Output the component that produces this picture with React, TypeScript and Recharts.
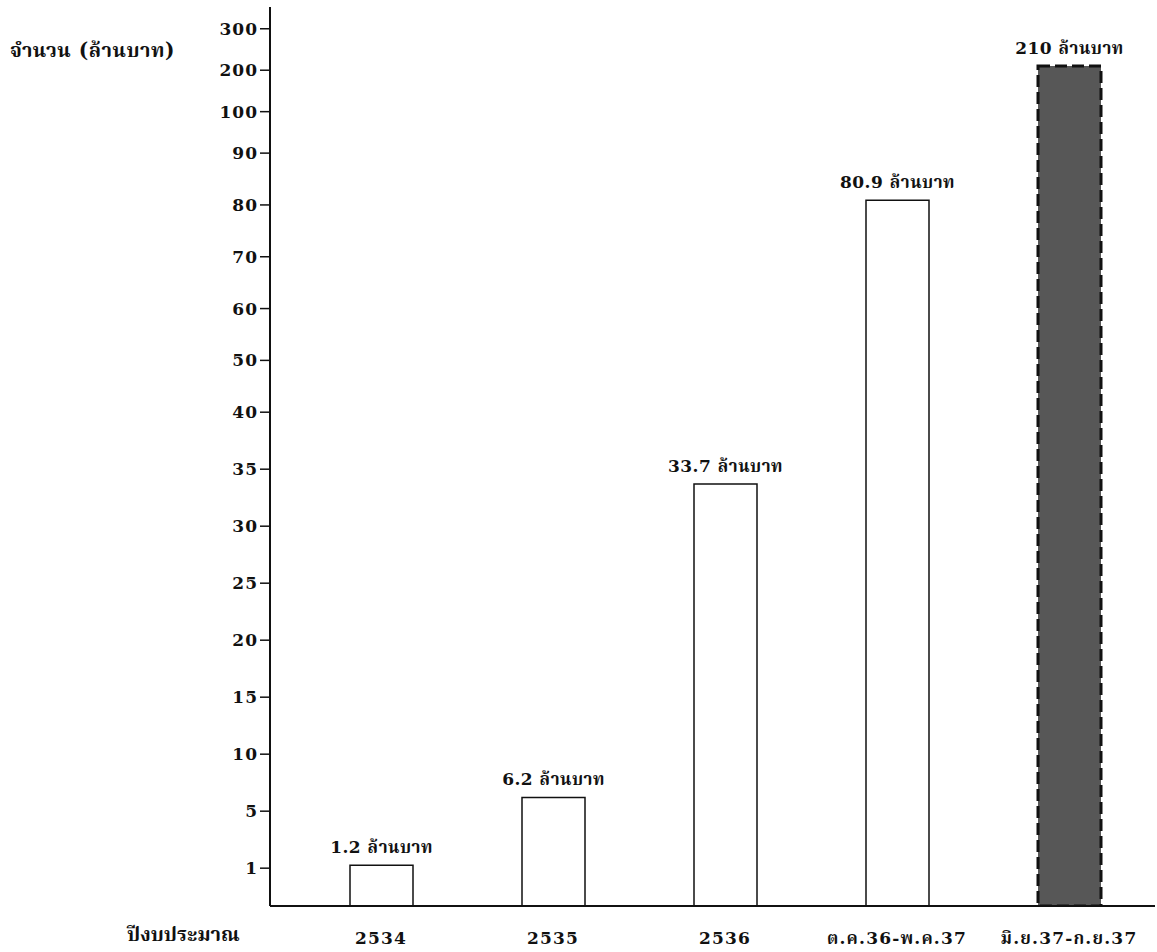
import React from "react";
import { Bar, BarChart, Cell, LabelList, XAxis, YAxis } from "recharts";

// budget per period, million baht
const PERIODS = ["2534", "2535", "2536", "ต.ค.36-พ.ค.37", "มิ.ย.37-ก.ย.37"];
const AMOUNTS = [1.2, 6.2, 33.7, 80.9, 210];

// the printed axis is not linear: each tick gets its own step
const TICK_VALUES = [0, 1, 5, 10, 15, 20, 25, 30, 35, 40, 50, 60, 70, 80, 90, 100, 200, 300];
const TICK_STEPS = [0.73, 1.1, 1.1, 1.1, 1.1, 1.1, 1.1, 1.1, 1.1, 1, 1, 1, 1, 1, 0.8, 0.8, 0.8];

const TICK_POS: number[] = [0];
TICK_STEPS.forEach((s, i) => TICK_POS.push(TICK_POS[i] + s));

function toAxis(v: number) {
  for (let i = 0; i < TICK_VALUES.length - 1; i++) {
    const a = TICK_VALUES[i];
    const b = TICK_VALUES[i + 1];
    if (v <= b) return TICK_POS[i] + ((v - a) / (b - a)) * TICK_STEPS[i];
  }
  return TICK_POS[TICK_POS.length - 1];
}

function tickLabel(p: number) {
  const i = TICK_POS.findIndex((t) => Math.abs(t - p) < 1e-6);
  return i >= 0 ? String(TICK_VALUES[i]) : "";
}

const data = PERIODS.map((period, i) => ({
  period,
  amount: AMOUNTS[i],
  pos: toAxis(AMOUNTS[i]),
}));

const FONT = "'DejaVu Serif', 'Noto Serif Thai', 'Noto Sans Thai', serif";
const TOP = TICK_POS[TICK_POS.length - 1] + 0.42;
const INK = "#111";

const AmountLabel = (props: any) => {
  const { x, y, width, value } = props;
  return (
    <text
      x={x + width / 2}
      y={y - 12}
      textAnchor="middle"
      fill={INK}
      fontSize={17}
      fontWeight={700}
      fontFamily={FONT}
      letterSpacing={0.5}
    >
      {`${value} ล้านบาท`}
    </text>
  );
};

export default function App() {
  return (
    <div style={{ position: "absolute", left: 0, top: 0, width: 1157, height: 952, background: "#fff", fontFamily: FONT }}>
      <div style={{ position: "absolute", left: 10, top: 36, fontSize: 20, fontWeight: 700, color: INK, letterSpacing: 0.5 }}>
        จำนวน (ล้านบาท)
      </div>
      <div style={{ position: "absolute", left: 127, top: 920, fontSize: 20, fontWeight: 700, color: INK }}>
        ปีงบประมาณ
      </div>
      <BarChart
        width={1157}
        height={952}
        data={data}
        margin={{ top: 7, right: 2, bottom: 6, left: 0 }}
        barSize={63}
      >
        <XAxis
          dataKey="period"
          height={40}
          padding={{ left: 25, right: 0 }}
          tickLine={false}
          axisLine={{ stroke: INK, strokeWidth: 2 }}
          tick={{ fill: INK, fontSize: 17, fontWeight: 700, fontFamily: FONT, dy: 18, letterSpacing: 1.2 }}
          interval={0}
        />
        <YAxis
          type="number"
          width={270}
          domain={[0, TOP]}
          allowDataOverflow
          ticks={TICK_POS.slice(1)}
          tickFormatter={tickLabel}
          tickSize={10}
          tickMargin={2}
          tickLine={{ stroke: INK, strokeWidth: 1.5 }}
          axisLine={{ stroke: INK, strokeWidth: 2 }}
          tick={{ fill: INK, fontSize: 17, fontWeight: 700, fontFamily: FONT, letterSpacing: 1 }}
        />
        <Bar dataKey="pos" fill="#fff" stroke={INK} strokeWidth={1.5} isAnimationActive={false}>
          {data.map((_, i) =>
            i === data.length - 1 ? (
              <Cell key={i} fill="#575757" stroke={INK} strokeWidth={3} strokeDasharray="12 5" />
            ) : (
              <Cell key={i} fill="#fff" stroke={INK} strokeWidth={1.5} />
            )
          )}
          <LabelList dataKey="amount" content={AmountLabel} />
        </Bar>
      </BarChart>
    </div>
  );
}
